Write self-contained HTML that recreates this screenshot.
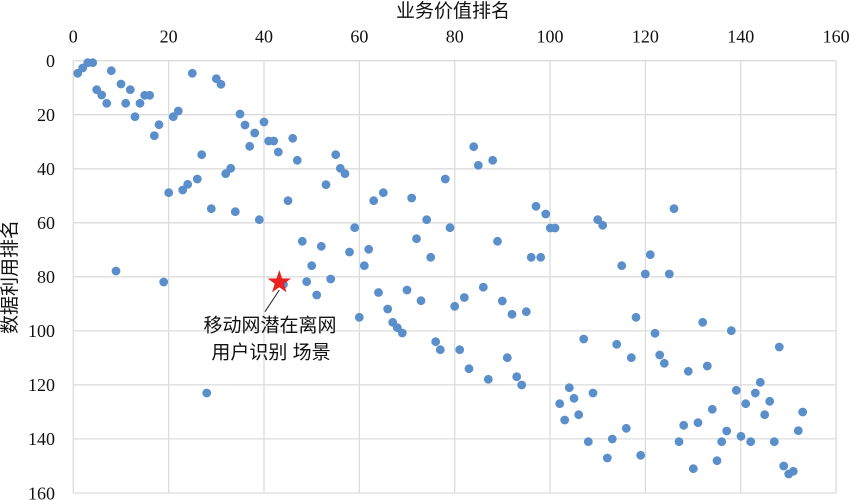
<!DOCTYPE html>
<html><head><meta charset="utf-8"><style>
html,body{margin:0;padding:0;background:#fff;}
svg{display:block;}
text.tk{font-family:"Liberation Serif","Times New Roman",serif;font-size:18px;fill:#111;}
text.cj{font-family:"Liberation Sans","Noto Sans CJK SC",sans-serif;font-size:19px;fill:#111;}
</style></head><body>
<svg width="850" height="500" viewBox="0 0 850 500" xmlns="http://www.w3.org/2000/svg">
<g stroke="#dcdcdc" stroke-width="1.3" fill="none">
<line x1="73.3" y1="60.7" x2="73.3" y2="493"/>
<line x1="168.65" y1="60.7" x2="168.65" y2="493"/>
<line x1="264" y1="60.7" x2="264" y2="493"/>
<line x1="359.35" y1="60.7" x2="359.35" y2="493"/>
<line x1="454.7" y1="60.7" x2="454.7" y2="493"/>
<line x1="550.05" y1="60.7" x2="550.05" y2="493"/>
<line x1="645.4" y1="60.7" x2="645.4" y2="493"/>
<line x1="740.75" y1="60.7" x2="740.75" y2="493"/>
<line x1="836.1" y1="60.7" x2="836.1" y2="493"/>
<line x1="73.3" y1="60.7" x2="836.1" y2="60.7"/>
<line x1="73.3" y1="114.7" x2="836.1" y2="114.7"/>
<line x1="73.3" y1="168.8" x2="836.1" y2="168.8"/>
<line x1="73.3" y1="222.8" x2="836.1" y2="222.8"/>
<line x1="73.3" y1="276.8" x2="836.1" y2="276.8"/>
<line x1="73.3" y1="330.9" x2="836.1" y2="330.9"/>
<line x1="73.3" y1="384.9" x2="836.1" y2="384.9"/>
<line x1="73.3" y1="438.9" x2="836.1" y2="438.9"/>
<line x1="73.3" y1="493" x2="836.1" y2="493"/>
</g>
<g font-family="Liberation Serif, Times New Roman, serif" font-size="18" fill="#111" text-anchor="middle">
<text class="tk" x="73.3" y="42.7">0</text>
<text class="tk" x="168.65" y="42.7">20</text>
<text class="tk" x="264" y="42.7">40</text>
<text class="tk" x="359.35" y="42.7">60</text>
<text class="tk" x="454.7" y="42.7">80</text>
<text class="tk" x="550.05" y="42.7">100</text>
<text class="tk" x="645.4" y="42.7">120</text>
<text class="tk" x="740.75" y="42.7">140</text>
<text class="tk" x="836.1" y="42.7">160</text>
</g>
<g font-family="Liberation Serif, Times New Roman, serif" font-size="18" fill="#111" text-anchor="end">
<text class="tk" x="55" y="67">0</text>
<text class="tk" x="55" y="121">20</text>
<text class="tk" x="55" y="175.1">40</text>
<text class="tk" x="55" y="229.1">60</text>
<text class="tk" x="55" y="283.1">80</text>
<text class="tk" x="55" y="337.2">100</text>
<text class="tk" x="55" y="391.2">120</text>
<text class="tk" x="55" y="445.2">140</text>
<text class="tk" x="55" y="499.3">160</text>
</g>
<text class="cj" x="453" y="17" text-anchor="middle">业务价值排名</text>
<text class="cj" transform="translate(16,277) rotate(-90)" text-anchor="middle">数据利用排名</text>
<g fill="#5b8fcb">
<circle cx="77.7" cy="73.3" r="4.4"/><circle cx="82.7" cy="68" r="4.4"/><circle cx="87.7" cy="62.7" r="4.4"/><circle cx="92.7" cy="62.7" r="4.4"/><circle cx="111.3" cy="70.7" r="4.4"/><circle cx="96.7" cy="89.7" r="4.4"/><circle cx="101.7" cy="95" r="4.4"/><circle cx="106.7" cy="103.3" r="4.4"/><circle cx="121" cy="84" r="4.4"/><circle cx="130.3" cy="89.7" r="4.4"/><circle cx="125.7" cy="103.3" r="4.4"/><circle cx="135" cy="116.7" r="4.4"/><circle cx="140" cy="103.3" r="4.4"/><circle cx="144.7" cy="95.3" r="4.4"/><circle cx="149.7" cy="95.3" r="4.4"/><circle cx="154.3" cy="135.7" r="4.4"/><circle cx="159" cy="124.7" r="4.4"/><circle cx="168.7" cy="192.7" r="4.4"/><circle cx="173.3" cy="116.7" r="4.4"/><circle cx="178.3" cy="111" r="4.4"/><circle cx="182.7" cy="190" r="4.4"/><circle cx="187.7" cy="184.3" r="4.4"/><circle cx="192.3" cy="73.3" r="4.4"/><circle cx="197.3" cy="179" r="4.4"/><circle cx="201.7" cy="154.7" r="4.4"/><circle cx="211.3" cy="208.7" r="4.4"/><circle cx="216.3" cy="78.7" r="4.4"/><circle cx="221" cy="84.3" r="4.4"/><circle cx="225.7" cy="173.7" r="4.4"/><circle cx="230.7" cy="168.3" r="4.4"/><circle cx="235.3" cy="211.7" r="4.4"/><circle cx="240" cy="114" r="4.4"/><circle cx="245" cy="125" r="4.4"/><circle cx="249.7" cy="146.3" r="4.4"/><circle cx="254.7" cy="133" r="4.4"/><circle cx="259.3" cy="219.7" r="4.4"/><circle cx="264" cy="122" r="4.4"/><circle cx="268.7" cy="141" r="4.4"/><circle cx="273.7" cy="141" r="4.4"/><circle cx="278.3" cy="152" r="4.4"/><circle cx="288" cy="200.7" r="4.4"/><circle cx="292.7" cy="138.3" r="4.4"/><circle cx="297.3" cy="160.3" r="4.4"/><circle cx="302.3" cy="241.3" r="4.4"/><circle cx="321.3" cy="246.3" r="4.4"/><circle cx="326" cy="184.7" r="4.4"/><circle cx="335.7" cy="154.7" r="4.4"/><circle cx="340.3" cy="168.3" r="4.4"/><circle cx="345" cy="173.7" r="4.4"/><circle cx="349.5" cy="252" r="4.4"/><circle cx="354.7" cy="227.7" r="4.4"/><circle cx="368.7" cy="249.3" r="4.4"/><circle cx="373.7" cy="200.7" r="4.4"/><circle cx="383.3" cy="192.7" r="4.4"/><circle cx="411.7" cy="198" r="4.4"/><circle cx="416.5" cy="238.7" r="4.4"/><circle cx="426.7" cy="219.7" r="4.4"/>
<circle cx="445.3" cy="179" r="4.4"/><circle cx="450" cy="227.7" r="4.4"/><circle cx="473.7" cy="146.7" r="4.4"/><circle cx="478.3" cy="165.3" r="4.4"/><circle cx="492.7" cy="160.3" r="4.4"/><circle cx="497.5" cy="241.3" r="4.4"/><circle cx="536" cy="206.3" r="4.4"/><circle cx="545.7" cy="214" r="4.4"/><circle cx="550.3" cy="228" r="4.4"/><circle cx="555" cy="228" r="4.4"/><circle cx="597.7" cy="219.7" r="4.4"/><circle cx="602.7" cy="225.3" r="4.4"/><circle cx="674" cy="208.7" r="4.4"/>
<circle cx="116" cy="271" r="4.4"/><circle cx="163.7" cy="282" r="4.4"/><circle cx="206.7" cy="393" r="4.4"/><circle cx="283.5" cy="284.3" r="4.4"/><circle cx="306.7" cy="281.7" r="4.4"/><circle cx="311.7" cy="265.7" r="4.4"/><circle cx="316.7" cy="295" r="4.4"/><circle cx="330.7" cy="279" r="4.4"/><circle cx="359.3" cy="317.3" r="4.4"/><circle cx="364.3" cy="265.7" r="4.4"/><circle cx="378.5" cy="292.5" r="4.4"/><circle cx="387.7" cy="309" r="4.4"/><circle cx="392.7" cy="322.3" r="4.4"/><circle cx="397.3" cy="327.7" r="4.4"/><circle cx="402.3" cy="333" r="4.4"/><circle cx="407" cy="290" r="4.4"/><circle cx="421" cy="300.7" r="4.4"/>
<circle cx="430.7" cy="257.3" r="4.4"/><circle cx="531.2" cy="257.3" r="4.4"/><circle cx="540.7" cy="257.3" r="4.4"/><circle cx="621.7" cy="265.7" r="4.4"/><circle cx="650.3" cy="254.7" r="4.4"/><circle cx="645.3" cy="274" r="4.4"/><circle cx="669.3" cy="274" r="4.4"/><circle cx="454.7" cy="306.3" r="4.4"/><circle cx="464.3" cy="297.5" r="4.4"/><circle cx="483.3" cy="287.2" r="4.4"/><circle cx="502.3" cy="301" r="4.4"/><circle cx="512" cy="314.3" r="4.4"/><circle cx="526.3" cy="311.7" r="4.4"/><circle cx="636" cy="317.3" r="4.4"/><circle cx="702.7" cy="322.3" r="4.4"/><circle cx="731.3" cy="330.7" r="4.4"/><circle cx="779.3" cy="347" r="4.4"/><circle cx="435.7" cy="341.7" r="4.4"/><circle cx="440.3" cy="349.7" r="4.4"/><circle cx="459.7" cy="349.7" r="4.4"/><circle cx="469" cy="368.7" r="4.4"/><circle cx="488.3" cy="379.3" r="4.4"/><circle cx="507.3" cy="357.7" r="4.4"/><circle cx="516.7" cy="376.7" r="4.4"/><circle cx="521.7" cy="385" r="4.4"/><circle cx="583.7" cy="339" r="4.4"/><circle cx="616.7" cy="344.3" r="4.4"/><circle cx="631.3" cy="357.7" r="4.4"/><circle cx="655" cy="333.3" r="4.4"/><circle cx="659.7" cy="355" r="4.4"/><circle cx="664.3" cy="363.3" r="4.4"/><circle cx="688.3" cy="371.3" r="4.4"/><circle cx="707.3" cy="366" r="4.4"/><circle cx="569.3" cy="387.7" r="4.4"/><circle cx="559.7" cy="403.7" r="4.4"/><circle cx="574" cy="398.3" r="4.4"/><circle cx="564.7" cy="420" r="4.4"/><circle cx="578.7" cy="414.7" r="4.4"/><circle cx="593" cy="393" r="4.4"/><circle cx="588.3" cy="441.7" r="4.4"/><circle cx="607.3" cy="458" r="4.4"/><circle cx="612.3" cy="439" r="4.4"/><circle cx="626.3" cy="428.3" r="4.4"/><circle cx="640.7" cy="455.3" r="4.4"/><circle cx="679" cy="441.7" r="4.4"/><circle cx="683.7" cy="425.3" r="4.4"/><circle cx="693.3" cy="468.7" r="4.4"/><circle cx="698" cy="422.7" r="4.4"/><circle cx="712.3" cy="409.3" r="4.4"/><circle cx="717" cy="460.7" r="4.4"/><circle cx="721.7" cy="441.7" r="4.4"/><circle cx="726.7" cy="431" r="4.4"/><circle cx="736.3" cy="390.3" r="4.4"/><circle cx="741" cy="436.3" r="4.4"/><circle cx="745.7" cy="403.7" r="4.4"/><circle cx="750.7" cy="441.7" r="4.4"/><circle cx="755.3" cy="393" r="4.4"/><circle cx="760.3" cy="382.3" r="4.4"/><circle cx="764.7" cy="414.7" r="4.4"/><circle cx="769.7" cy="401.3" r="4.4"/><circle cx="774.3" cy="441.7" r="4.4"/><circle cx="783.7" cy="466" r="4.4"/><circle cx="788.7" cy="474" r="4.4"/><circle cx="793.3" cy="471.3" r="4.4"/><circle cx="798.3" cy="430.7" r="4.4"/><circle cx="802.7" cy="412" r="4.4"/>
</g>
<polygon fill="#e8221e" points="279.3,270 282.1,278.4 291.0,278.5 283.9,283.8 286.5,292.3 279.3,287.2 272.1,292.3 274.7,283.8 267.6,278.5 276.5,278.4"/>
<line x1="279.3" y1="290" x2="265" y2="311.7" stroke="#222" stroke-width="1"/>
<text class="cj" x="270" y="331.5" text-anchor="middle">移动网潜在离网</text>
<text class="cj" x="271" y="358.5" text-anchor="middle">用户识别 场景</text>
</svg>
</body></html>
